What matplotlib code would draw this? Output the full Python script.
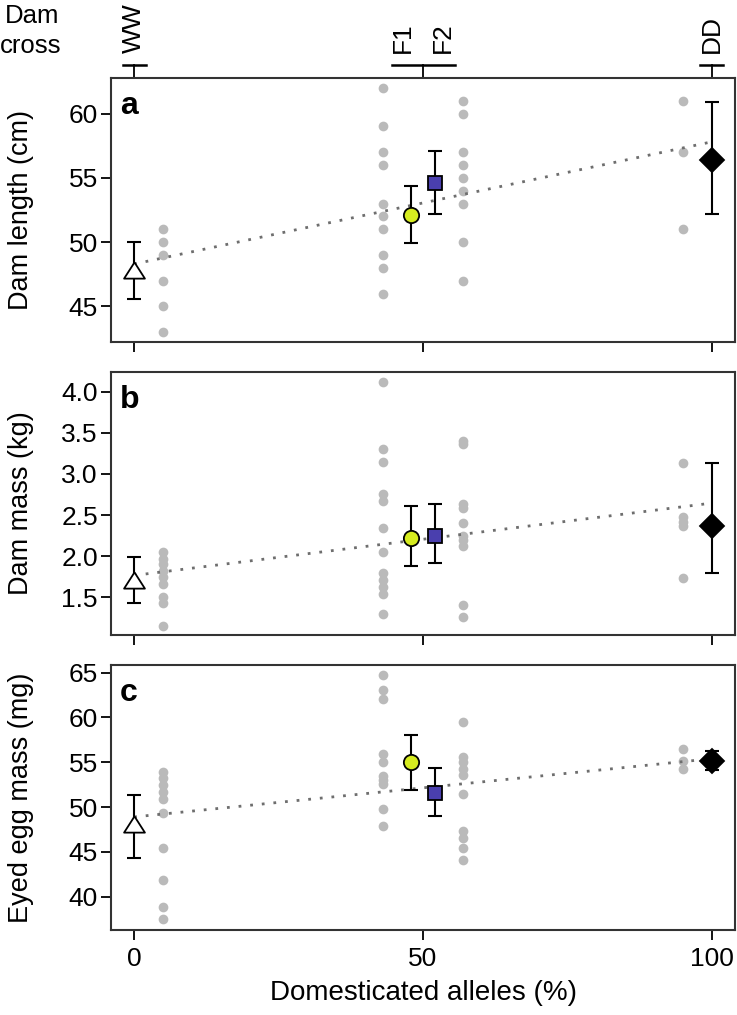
import matplotlib
matplotlib.use("Agg")
import matplotlib.pyplot as plt
import matplotlib.transforms as mtransforms

plt.rcParams["font.family"] = ["Liberation Sans", "DejaVu Sans"]

# crosses: x position of means and of raw points
cross_names = ["WW", "F1", "F2", "DD"]
cross_label_x = [0, 46.5, 53.5, 100]
mean_x = [0, 48, 52, 100]
raw_x = [5, 43, 57, 95]

# panel a: dam length (cm)
len_ww = [51, 50, 49, 47, 45, 43]
len_f1 = [62, 59, 57, 56, 53, 52, 51, 49, 48, 46]
len_f2 = [61, 60, 57, 56, 55, 54, 53, 50, 47]
len_dd = [61, 57, 51]
len_mean = [47.8, 52.1, 54.6, 56.4]
len_lo = [45.6, 49.9, 52.2, 52.2]
len_hi = [50.0, 54.4, 57.1, 60.9]
len_trend = [48.3, 57.8]

# panel b: dam mass (kg)
mass_ww = [2.05, 1.97, 1.90, 1.82, 1.75, 1.66, 1.50, 1.43, 1.15]
mass_f1 = [4.12, 3.30, 3.14, 2.76, 2.67, 2.34, 2.05, 1.79, 1.71, 1.63, 1.54, 1.30]
mass_f2 = [3.40, 3.36, 2.64, 2.58, 2.40, 2.25, 2.19, 2.12, 1.40, 1.26]
mass_dd = [3.13, 2.47, 2.42, 2.37, 1.73]
mass_mean = [1.71, 2.22, 2.25, 2.37]
mass_lo = [1.43, 1.88, 1.91, 1.79]
mass_hi = [1.99, 2.61, 2.64, 3.13]
mass_trend = [1.765, 2.645]

# panel c: eyed egg mass (mg)
egg_ww = [53.9, 53.2, 52.5, 51.7, 50.9, 49.3, 45.4, 41.9, 38.9, 37.5]
egg_f1 = [64.7, 63.1, 62.1, 55.9, 55.0, 53.5, 53.0, 52.6, 49.8, 47.9]
egg_f2 = [59.5, 55.6, 55.0, 54.3, 53.6, 51.5, 47.3, 46.5, 45.4, 44.1]
egg_dd = [56.5, 55.2, 54.2]
egg_mean = [48.1, 55.0, 51.6, 55.2]
egg_lo = [44.3, 51.9, 49.0, 54.1]
egg_hi = [51.4, 58.1, 54.4, 56.3]
egg_trend = [48.9, 55.4]

trend_x = [0, 100]

panels = [
    dict(letter="a", ylabel="Dam length (cm)", raw=[len_ww, len_f1, len_f2, len_dd],
         mean=len_mean, lo=len_lo, hi=len_hi, trend=len_trend,
         ylim=(42.24, 62.76), yticks=[45, 50, 55, 60], fmt="{:.0f}"),
    dict(letter="b", ylabel="Dam mass (kg)", raw=[mass_ww, mass_f1, mass_f2, mass_dd],
         mean=mass_mean, lo=mass_lo, hi=mass_hi, trend=mass_trend,
         ylim=(1.04, 4.24), yticks=[1.5, 2.0, 2.5, 3.0, 3.5, 4.0], fmt="{:.1f}"),
    dict(letter="c", ylabel="Eyed egg mass (mg)", raw=[egg_ww, egg_f1, egg_f2, egg_dd],
         mean=egg_mean, lo=egg_lo, hi=egg_hi, trend=egg_trend,
         ylim=(36.28, 65.86), yticks=[40, 45, 50, 55, 60, 65], fmt="{:.0f}"),
]

# WW triangle is wider than tall, like R's pch 24
tri = [(0, 0.78), (-1, -0.78), (1, -0.78), (0, 0.78)]
marker_styles = [
    dict(marker=tri, mfc="white", ms=15),
    dict(marker="o", mfc="#d6ec20", ms=11),
    dict(marker="s", mfc="#4a3fae", ms=10),
    dict(marker="D", mfc="black", ms=12),
]

W, H = 737, 1015
fig = plt.figure(figsize=(W / 100, H / 100), dpi=100)

# axes boxes in pixels (top, bottom)
boxes = [(78, 342), (372, 635), (665, 930)]
left_px, right_px = 111, 735

axes = []
for (top, bot), p in zip(boxes, panels):
    ax = fig.add_axes([left_px / W, 1 - bot / H, (right_px - left_px) / W, (bot - top) / H])
    axes.append(ax)

    for xr, vals in zip(raw_x, p["raw"]):
        ax.plot([xr] * len(vals), vals, "o", color="#bababa", ms=7, mec="none", zorder=1)

    ax.plot(trend_x, p["trend"], color="#6e6e6e", lw=2, ls=(0, (1, 3.2)), zorder=2)

    for i in range(4):
        m = p["mean"][i]
        ax.errorbar(mean_x[i], m, yerr=[[m - p["lo"][i]], [p["hi"][i] - m]],
                    fmt="none", ecolor="black", elinewidth=1.5, capsize=5, capthick=1.5, zorder=3)
        st = marker_styles[i]
        ax.plot(mean_x[i], m, marker=st["marker"], ls="none", mfc=st["mfc"], mec="black",
                mew=1.3, ms=st["ms"], zorder=4)

    ax.set_xlim(-4, 104)
    ax.set_ylim(*p["ylim"])
    ax.set_yticks(p["yticks"])
    ax.set_yticklabels([p["fmt"].format(v) for v in p["yticks"]])
    ax.set_xticks([0, 50, 100])
    ax.tick_params(direction="out", length=7.5, width=1.3, labelsize=19, colors="black", pad=2)
    ax.set_ylabel(p["ylabel"], fontsize=19.5)
    ax.yaxis.set_label_coords(-0.123, 0.5)
    for s in ax.spines.values():
        s.set_linewidth(1.5)
        s.set_color("#333333")
    ax.text(0.014, 0.952, p["letter"], transform=ax.transAxes, fontsize=23,
            fontweight="bold", ha="left", va="top")

for ax in axes[:2]:
    ax.set_xticklabels([])

axes[2].set_xticklabels(["0", "50", "100"])
axes[2].tick_params(axis="x", pad=5)
axes[2].set_xlabel("Domesticated alleles (%)", fontsize=20, va="top")
axes[2].xaxis.set_label_coords(0.5, -0.19)

# top "Dam cross" axis on panel a
ax = axes[0]
tr = mtransforms.blended_transform_factory(ax.transData, ax.transAxes)
bar_y = (342 - 65) / (342 - 78)
bar_spans = [(-2, 2, 0), (44.6, 55.5, 50), (98, 102, 100)]
for x0, x1, xt in bar_spans:
    ax.plot([x0, x1], [bar_y, bar_y], color="black", lw=1.8, transform=tr, clip_on=False)
    ax.plot([xt, xt], [1, bar_y], color="black", lw=1.3, transform=tr, clip_on=False)
label_y = (342 - 53) / (342 - 78)
for name, xl in zip(cross_names, cross_label_x):
    ax.text(xl, label_y, name, transform=tr, rotation=90, ha="center", va="bottom",
            fontsize=19)

fig.text(32 / W, 1 - 16 / H, "Dam", ha="center", va="center", fontsize=18.5)
fig.text(31 / W, 1 - 46 / H, "cross", ha="center", va="center", fontsize=18.5)

fig.savefig("out.png", dpi=100)
